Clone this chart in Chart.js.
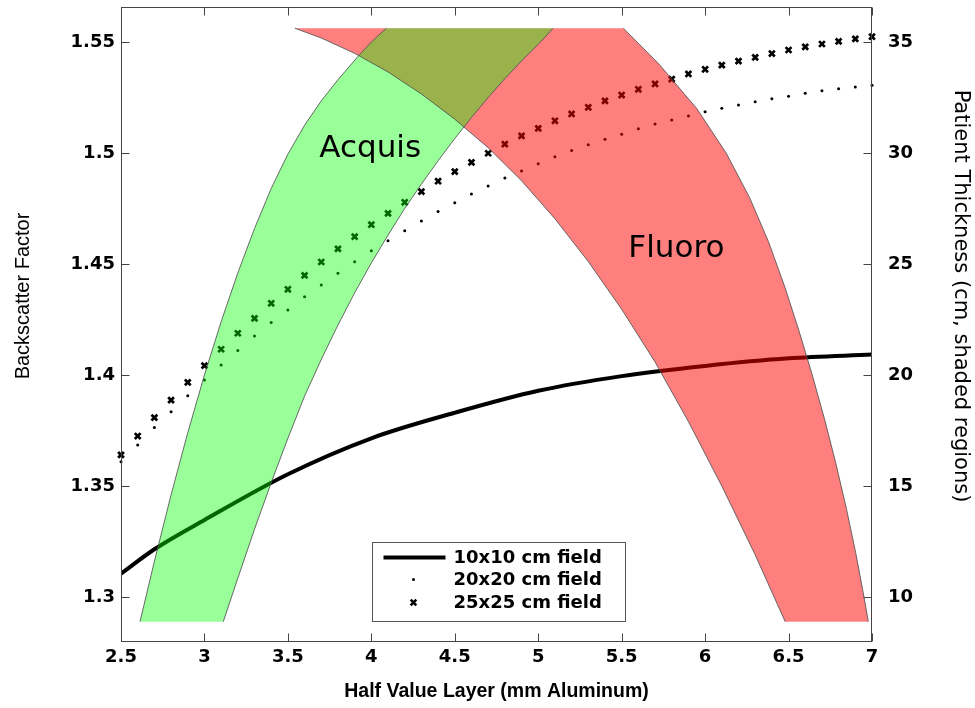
<!DOCTYPE html>
<html>
<head>
<meta charset="utf-8">
<script src="https://cdn.jsdelivr.net/npm/chart.js@4.4.1/dist/chart.umd.min.js"></script>
<style>
  html, body { margin: 0; padding: 0; background: #fff; }
  #wrap { width: 975px; height: 708px; position: relative; }
</style>
</head>
<body>
<div id="wrap"><canvas id="bsfChart"></canvas></div>
<script>
// half value layer samples (mm Al) for the two marker series
const hvl = [2.5, 2.6, 2.7, 2.8, 2.9, 3.0, 3.1, 3.2, 3.3, 3.4, 3.5, 3.6, 3.7, 3.8, 3.9,
             4.0, 4.1, 4.2, 4.3, 4.4, 4.5, 4.6, 4.7, 4.8, 4.9, 5.0, 5.1, 5.2, 5.3, 5.4,
             5.5, 5.6, 5.7, 5.8, 5.9, 6.0, 6.1, 6.2, 6.3, 6.4, 6.5, 6.6, 6.7, 6.8, 6.9, 7.0];
const bsf20 = [1.3609, 1.3685, 1.3763, 1.3835, 1.3907, 1.3977, 1.4045, 1.4110, 1.4176, 1.4236,
               1.4293, 1.4352, 1.4405, 1.4458, 1.4510, 1.4560, 1.4605, 1.4650, 1.4694, 1.4736,
               1.4776, 1.4815, 1.4851, 1.4887, 1.4919, 1.4952, 1.4983, 1.5011, 1.5037, 1.5062,
               1.5085, 1.5109, 1.5131, 1.5149, 1.5167, 1.5186, 1.5202, 1.5216, 1.5231, 1.5244,
               1.5256, 1.5269, 1.5280, 1.5290, 1.5297, 1.5305];
const bsf25 = [1.3640, 1.3725, 1.3808, 1.3887, 1.3967, 1.4042, 1.4116, 1.4188, 1.4255, 1.4323,
               1.4386, 1.4449, 1.4509, 1.4568, 1.4623, 1.4677, 1.4728, 1.4778, 1.4826, 1.4873,
               1.4916, 1.4958, 1.4999, 1.5040, 1.5077, 1.5111, 1.5145, 1.5176, 1.5206, 1.5235,
               1.5261, 1.5287, 1.5311, 1.5333, 1.5356, 1.5377, 1.5396, 1.5414, 1.5431, 1.5448,
               1.5464, 1.5478, 1.5491, 1.5503, 1.5514, 1.5524];

// 10x10 curve
const hvl10 = [2.5, 2.7, 3.0, 3.5, 4.0, 4.5, 5.0, 5.5, 6.0, 6.5, 7.0];
const bsf10 = [1.3105, 1.3215, 1.3347, 1.3553, 1.3715, 1.3830, 1.3929, 1.3995, 1.4041, 1.4075, 1.4092];

// shaded regions, patient thickness (cm) vs HVL, as upper / lower edges
const acqUpperHvl = [2.614, 2.70, 2.80, 2.90, 3.00, 3.10, 3.20, 3.30, 3.40, 3.50, 3.60, 3.70, 3.80, 3.92, 4.00, 4.09, 5.09];
const acqUpperCm  = [8.89, 11.6, 14.6, 17.4, 20.0, 22.4, 24.6, 26.6, 28.4, 29.95, 31.25, 32.35, 33.3, 34.35, 35.0, 35.62, 35.62];
const acqLowerHvl = [2.614, 3.113, 3.20, 3.30, 3.40, 3.50, 3.60, 3.70, 3.80, 3.90, 4.00, 4.10, 4.20, 4.30, 4.40, 4.50, 4.60, 4.70, 4.80, 4.90, 5.00, 5.09];
const acqLowerCm  = [8.89, 8.89, 10.85, 13.05, 15.15, 17.15, 19.05, 20.7, 22.25, 23.7, 25.05, 26.3, 27.5, 28.6, 29.65, 30.65, 31.6, 32.5, 33.35, 34.15, 34.9, 35.62];
const fluUpperHvl = [3.542, 5.51, 5.724, 5.95, 6.126, 6.266, 6.38, 6.476, 6.562, 6.642, 6.716, 6.784, 6.846, 6.902, 6.952, 6.978];
const fluUpperCm  = [35.62, 35.62, 34.0, 32.0, 30.0, 28.0, 26.0, 24.0, 22.0, 20.0, 18.0, 16.0, 14.0, 12.0, 10.0, 8.89];
const fluLowerHvl = [3.542, 3.70, 3.90, 4.10, 4.30, 4.50, 4.70, 4.90, 5.10, 5.30, 5.50, 5.70, 5.90, 6.10, 6.30, 6.48, 6.978];
const fluLowerCm  = [35.62, 35.18, 34.49, 33.65, 32.66, 31.52, 30.24, 28.75, 27.04, 25.11, 22.96, 20.59, 17.9, 15.0, 11.9, 8.89, 8.89];

const regionNames = ['Acquis', 'Fluoro'];
const regionHvl = [3.688, 5.540];
const regionBsf = [1.4983, 1.4533];

const xTicks = [2.5, 3, 3.5, 4, 4.5, 5, 5.5, 6, 6.5, 7];
const bsfTicks = [1.3, 1.35, 1.4, 1.45, 1.5, 1.55];
const cmTicks = [10, 15, 20, 25, 30, 35];

const legendNames = ['10x10 cm field', '20x20 cm field', '25x25 cm field'];

function pts(xs, ys) {
    return xs.map((x, i) => ({ x: x, y: ys[i] }));
}

const edgeColor = 'rgba(80,80,80,0.85)';

// filled band edge (no stroke)
function bandFill(label, data, fill, color, order) {
    return {
        label: label,
        data: data,
        yAxisID: 'y2',
        fill: fill,
        backgroundColor: color,
        borderWidth: 0,
        borderColor: 'rgba(0,0,0,0)',
        pointRadius: 0,
        tension: 0,
        order: order
    };
}
// thin grey outline on the curved sides only
function bandEdge(label, data) {
    return {
        label: label,
        data: data,
        yAxisID: 'y2',
        fill: false,
        borderColor: edgeColor,
        borderWidth: 1,
        pointRadius: 0,
        tension: 0,
        order: 0
    };
}

const tickFont = { family: 'DejaVu Sans', weight: 'bold', size: 18 };

function noPad(s) {
    s.paddingTop = 0; s.paddingBottom = 0;
    s.paddingLeft = 0; s.paddingRight = 0;
}

const decorations = {
    id: 'decorations',
    afterDatasetsDraw(chart) {
        const { ctx, scales } = chart;
        ctx.save();
        ctx.fillStyle = '#000';
        ctx.font = '31px "DejaVu Sans"';
        ctx.textBaseline = 'alphabetic';
        ctx.textAlign = 'left';
        regionNames.forEach((name, i) => {
            ctx.fillText(name, scales.x.getPixelForValue(regionHvl[i]), scales.y.getPixelForValue(regionBsf[i]));
        });
        ctx.restore();
    },
    afterDraw(chart) {
        const { ctx, chartArea: a, scales } = chart;
        const L = Math.round(a.left) + 0.5, R = Math.round(a.right) - 0.5;
        const T = Math.round(a.top) + 0.5, B = Math.round(a.bottom) - 0.5;
        ctx.save();
        ctx.strokeStyle = '#444';
        ctx.lineWidth = 1;
        ctx.strokeRect(L, T, R - L, B - T);
        const len = 8;
        ctx.beginPath();
        scales.x.ticks.forEach(t => {
            const px = Math.round(scales.x.getPixelForValue(t.value)) + 0.5;
            ctx.moveTo(px, B); ctx.lineTo(px, B - len);
            ctx.moveTo(px, T); ctx.lineTo(px, T + len);
        });
        scales.y.ticks.forEach(t => {
            const py = Math.round(scales.y.getPixelForValue(t.value)) + 0.5;
            ctx.moveTo(L, py); ctx.lineTo(L + len, py);
        });
        scales.y2.ticks.forEach(t => {
            const py = Math.round(scales.y2.getPixelForValue(t.value)) + 0.5;
            ctx.moveTo(R, py); ctx.lineTo(R - len, py);
        });
        ctx.stroke();

        // rotated axis titles
        const midY = a.top + 289;
        ctx.fillStyle = '#000';
        ctx.textAlign = 'center';
        ctx.textBaseline = 'middle';
        ctx.save();
        ctx.translate(23, midY);
        ctx.rotate(-Math.PI / 2);
        ctx.font = '20px "Liberation Sans"';
        ctx.fillText('Backscatter Factor', 0, 0);
        ctx.restore();
        ctx.save();
        ctx.translate(960, midY);
        ctx.rotate(Math.PI / 2);
        ctx.font = '21px "DejaVu Sans"';
        ctx.fillText('Patient Thickness (cm, shaded regions)', 0, 0);
        ctx.restore();

        // legend box
        const bx = Math.round(a.left) + 251.5, by = Math.round(a.bottom) - 99.5;
        const bw = 253, bh = 79;
        ctx.fillStyle = '#fff';
        ctx.fillRect(bx, by, bw, bh);
        ctx.strokeStyle = '#555';
        ctx.strokeRect(bx, by, bw, bh);
        const rows = [by + 15, by + 37, by + 60];
        const sx = bx + 41;
        ctx.strokeStyle = '#000';
        ctx.lineWidth = 4;
        ctx.beginPath();
        ctx.moveTo(bx + 11, rows[0]); ctx.lineTo(bx + 73, rows[0]);
        ctx.stroke();
        ctx.fillStyle = '#000';
        ctx.beginPath();
        ctx.arc(sx, rows[1], 1.5, 0, Math.PI * 2);
        ctx.fill();
        ctx.lineWidth = 2.6;
        ctx.beginPath();
        const c = 2.8;
        ctx.moveTo(sx - c, rows[2] - c); ctx.lineTo(sx + c, rows[2] + c);
        ctx.moveTo(sx - c, rows[2] + c); ctx.lineTo(sx + c, rows[2] - c);
        ctx.stroke();
        ctx.font = 'bold 18px "DejaVu Sans"';
        ctx.textAlign = 'left';
        legendNames.forEach((n, i) => ctx.fillText(n, bx + 81, rows[i] + 1));
        ctx.restore();
    }
};

new Chart(document.getElementById('bsfChart'), {
    type: 'line',
    data: {
        datasets: [
            bandFill('Acquis upper', pts(acqUpperHvl, acqUpperCm), '+1', 'rgba(0,255,0,0.4)', 1),
            bandFill('Acquis lower', pts(acqLowerHvl, acqLowerCm), false, 'rgba(0,0,0,0)', 2),
            bandFill('Fluoro upper', pts(fluUpperHvl, fluUpperCm), '+1', 'rgba(255,0,0,0.5)', 3),
            bandFill('Fluoro lower', pts(fluLowerHvl, fluLowerCm), false, 'rgba(0,0,0,0)', 4),
            bandEdge('Acquis left edge', pts(acqUpperHvl.slice(0, -1), acqUpperCm.slice(0, -1))),
            bandEdge('Acquis right edge', pts(acqLowerHvl.slice(1), acqLowerCm.slice(1))),
            bandEdge('Fluoro right edge', pts(fluUpperHvl.slice(1), fluUpperCm.slice(1))),
            bandEdge('Fluoro left edge', pts(fluLowerHvl.slice(0, -1), fluLowerCm.slice(0, -1))),
            {
                label: legendNames[0],
                data: pts(hvl10, bsf10),
                yAxisID: 'y',
                borderColor: '#000',
                borderWidth: 4,
                pointRadius: 0,
                cubicInterpolationMode: 'monotone',
                fill: false,
                order: 5
            },
            {
                label: legendNames[1],
                data: pts(hvl, bsf20),
                yAxisID: 'y',
                showLine: false,
                pointStyle: 'circle',
                pointRadius: 1.5,
                pointBorderWidth: 0,
                pointBackgroundColor: '#000',
                clip: 8,
                order: 6
            },
            {
                label: legendNames[2],
                data: pts(hvl, bsf25),
                yAxisID: 'y',
                showLine: false,
                pointStyle: 'crossRot',
                pointRadius: 4.1,
                pointBorderWidth: 2.7,
                pointBorderColor: '#000',
                clip: 8,
                order: 7
            }
        ]
    },
    options: {
        responsive: true,
        maintainAspectRatio: false,
        animation: false,
        layout: { padding: { top: 7, left: 0, right: 0, bottom: 0 } },
        plugins: {
            legend: { display: false },
            tooltip: { enabled: false }
        },
        scales: {
            x: {
                type: 'linear',
                min: 2.5,
                max: 7,
                grid: { display: false, drawTicks: false },
                border: { display: false },
                afterBuildTicks: s => { s.ticks = xTicks.map(v => ({ value: v })); },
                afterFit: s => { s.height = 66; noPad(s); },
                ticks: { color: '#000', font: tickFont, padding: 5, maxRotation: 0, callback: v => String(v) },
                title: {
                    display: true,
                    text: 'Half Value Layer (mm Aluminum)',
                    color: '#000',
                    font: { family: 'Liberation Sans', weight: 'bold', size: 19.5 },
                    padding: { top: 0, bottom: 5 }
                }
            },
            y: {
                position: 'left',
                min: 1.27973,
                max: 1.56577,
                grid: { display: false, drawTicks: false },
                border: { display: false },
                afterBuildTicks: s => { s.ticks = bsfTicks.map(v => ({ value: v })); },
                afterFit: s => { s.width = 121; noPad(s); },
                ticks: { color: '#000', font: tickFont, padding: 6, callback: v => String(v) }
            },
            y2: {
                position: 'right',
                min: 7.973,
                max: 36.577,
                grid: { display: false, drawTicks: false },
                border: { display: false },
                afterBuildTicks: s => { s.ticks = cmTicks.map(v => ({ value: v })); },
                afterFit: s => { s.width = 103; noPad(s); },
                ticks: { color: '#000', font: tickFont, padding: 16, callback: v => String(v) }
            }
        }
    },
    plugins: [decorations]
});
</script>
</body>
</html>
